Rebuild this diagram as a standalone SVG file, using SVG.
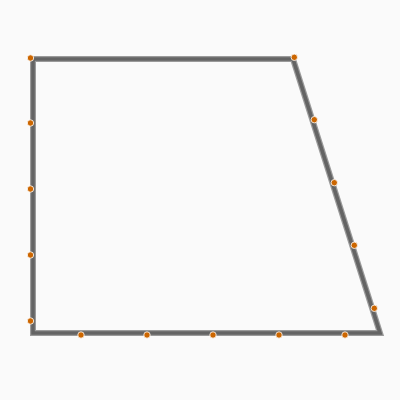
<svg xmlns="http://www.w3.org/2000/svg" width="400" height="400" viewBox="0 0 400 400">
<style>
.halo{fill:none;stroke:#9a9a9a;stroke-width:6;stroke-linejoin:miter}
.edge{fill:none;stroke:#646464;stroke-width:3.6;stroke-linejoin:miter}
.pt{fill:#cc6600;stroke:#ffffff;stroke-width:0.8}
</style>
<rect width="400" height="400" fill="#fafafa"/>
<g id="connectors">
<polygon class="halo" points="33,59 293,59 380,333 33,333"/>
<polygon class="edge" points="33,59 293,59 380,333 33,333"/>
</g>
<g id="points">
<circle class="pt" cx="30.5" cy="58" r="3.2"/>
<circle class="pt" cx="30.5" cy="123" r="3.2"/>
<circle class="pt" cx="30.5" cy="189" r="3.2"/>
<circle class="pt" cx="30.5" cy="255" r="3.2"/>
<circle class="pt" cx="30.5" cy="321" r="3.2"/>
<circle class="pt" cx="81" cy="335" r="3.2"/>
<circle class="pt" cx="147" cy="335" r="3.2"/>
<circle class="pt" cx="213" cy="335" r="3.2"/>
<circle class="pt" cx="279" cy="335" r="3.2"/>
<circle class="pt" cx="345" cy="335" r="3.2"/>
<circle class="pt" cx="294.3" cy="57.3" r="3.2"/>
<circle class="pt" cx="314.3" cy="119.7" r="3.2"/>
<circle class="pt" cx="334.3" cy="182.7" r="3.2"/>
<circle class="pt" cx="354.3" cy="245.3" r="3.2"/>
<circle class="pt" cx="374.3" cy="308.3" r="3.2"/>
</g>
</svg>
